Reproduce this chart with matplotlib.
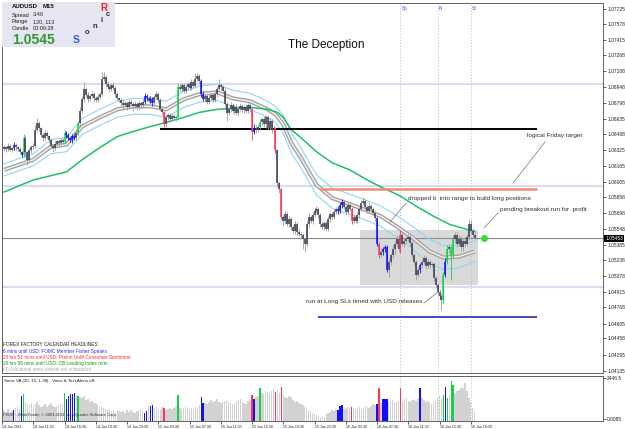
import matplotlib
matplotlib.use("Agg")
import matplotlib.pyplot as plt
import matplotlib.transforms as mtransforms
from matplotlib.patches import Rectangle
from matplotlib.lines import Line2D
import numpy as np

plt.rcParams['font.family'] = ['Liberation Sans', 'DejaVu Sans']

W, H = 625, 429

# ---------------- data ----------------
symbol = "AUDUSD"
timeframe = "M15"
spread = "3.40"
range_txt = "120, 113"
candle_timer = "00:09:28"
bid_text = "1.0545"
current_price = 1.05453

first_open = 1.0634
close = [
    1.0636, 1.0634, 1.0637, 1.0633, 1.0635, 1.0638, 1.0636, 1.0634, 1.0631, 1.0628,
    1.0645, 1.0631, 1.0623, 1.0633, 1.0636, 1.0637, 1.0653, 1.0659, 1.0655, 1.0648,
    1.0645, 1.0650, 1.0647, 1.0643, 1.0637, 1.0635, 1.0639, 1.0642, 1.0640, 1.0643,
    1.0641, 1.0650, 1.0648, 1.0645, 1.0643, 1.0647, 1.0645, 1.0650, 1.0659, 1.0671,
    1.0683, 1.0693, 1.0687, 1.0683, 1.0686, 1.0688, 1.0684, 1.0682, 1.0685, 1.0688,
    1.0703, 1.0705, 1.0698, 1.0695, 1.0693, 1.0697, 1.0694, 1.0688, 1.0684, 1.0682,
    1.0679, 1.0677, 1.0679, 1.0675, 1.0680, 1.0678, 1.0676, 1.0678, 1.0675, 1.0679,
    1.0677, 1.0680, 1.0686, 1.0684, 1.0681, 1.0683, 1.0679, 1.0685, 1.0688, 1.0682,
    1.0673, 1.0670, 1.0658, 1.0665, 1.0667, 1.0663, 1.0666, 1.0664, 1.0665, 1.0695,
    1.0693, 1.0697, 1.0691, 1.0695, 1.0698, 1.0694, 1.0700, 1.0696, 1.0703, 1.0706,
    1.0701, 1.0688, 1.0683, 1.0686, 1.0680, 1.0684, 1.0687, 1.0682, 1.0688, 1.0693,
    1.0697, 1.0695, 1.0691, 1.0678, 1.0669, 1.0673, 1.0677, 1.0671, 1.0675, 1.0669,
    1.0673, 1.0676, 1.0672, 1.0675, 1.0671, 1.0677, 1.0673, 1.0651, 1.0655, 1.0653,
    1.0656, 1.0660, 1.0663, 1.0658, 1.0665, 1.0655, 1.0661, 1.0653, 1.0655, 1.0633,
    1.0600, 1.0594, 1.0566, 1.0562, 1.0569, 1.0559, 1.0564, 1.0556, 1.0552, 1.0559,
    1.0551, 1.0549, 1.0548, 1.0544, 1.0539, 1.0559, 1.0566, 1.0562, 1.0568, 1.0572,
    1.0574, 1.0568, 1.0559, 1.0556, 1.0560, 1.0554, 1.0564, 1.0569, 1.0566, 1.0571,
    1.0574, 1.0572, 1.0578, 1.0581, 1.0576, 1.0571, 1.0578, 1.0574, 1.0562, 1.0566,
    1.0562, 1.0568, 1.0574, 1.0580, 1.0582, 1.0576, 1.0572, 1.0577, 1.0574, 1.0570,
    1.0565, 1.0539, 1.0529, 1.0532, 1.0534, 1.0536, 1.0514, 1.0522, 1.0529, 1.0534,
    1.0539, 1.0544, 1.0534, 1.0548, 1.0539, 1.0542, 1.0544, 1.0546, 1.0540, 1.0529,
    1.0522, 1.0509, 1.0514, 1.0519, 1.0522, 1.0526, 1.0518, 1.0522, 1.0519, 1.0520,
    1.0506, 1.0499, 1.0492, 1.0488, 1.0484, 1.0509, 1.0522, 1.0534, 1.0536, 1.0529,
    1.0544, 1.0548, 1.0539, 1.0544, 1.0536, 1.0542, 1.0539, 1.0546, 1.0559, 1.0552,
    1.0548, 1.05453,
]
upper_wick_pips = [
    2, 1, 3, 2, 1, 3, 2, 1, 2, 1,  4, 2, 1, 2, 2, 3, 4, 5, 2, 1,
    2, 3, 2, 1, 2, 2, 3, 1, 2, 2,  2, 3, 2, 2, 1, 2, 2, 3, 2, 4,
    3, 7, 2, 3, 2, 3, 2, 2, 3, 2,  7, 5, 2, 3, 2, 2, 3, 2, 2, 1,
    2, 3, 2, 2, 3, 2, 2, 3, 2, 2,  2, 3, 3, 2, 2, 3, 2, 2, 3, 2,
    2, 2, 1, 3, 2, 2, 3, 2, 2, 4,  3, 2, 2, 3, 2, 2, 3, 2, 6, 3,
    2, 2, 3, 2, 2, 3, 2, 2, 3, 2,  6, 2, 2, 3, 2, 2, 3, 2, 2, 3,
    2, 3, 2, 2, 3, 2, 2, 1, 3, 2,  2, 3, 2, 3, 2, 2, 3, 2, 2, 1,
    1, 2, 1, 2, 3, 2, 3, 2, 2, 3,  2, 3, 2, 2, 1, 3, 4, 2, 3, 3,
    3, 2, 2, 3, 2, 2, 3, 2, 2, 3,  2, 3, 3, 3, 2, 2, 3, 2, 2, 3,
    2, 3, 2, 3, 4, 2, 2, 3, 2, 2,  2, 1, 2, 3, 2, 2, 2, 3, 2, 4,
    3, 4, 2, 5, 3, 3, 2, 3, 2, 2,  2, 2, 3, 2, 3, 3, 2, 3, 2, 2,
    2, 2, 2, 3, 2, 3, 4, 4, 3, 2,  4, 3, 3, 4, 3, 3, 4, 3, 5, 4,
    3, 3,
]
lower_wick_pips = [
    2, 3, 2, 1, 2, 2, 3, 2, 2, 2,  2, 3, 5, 2, 3, 2, 2, 2, 3, 2,
    3, 2, 2, 3, 2, 4, 2, 2, 3, 2,  2, 2, 3, 2, 2, 3, 2, 2, 2, 3,
    2, 3, 2, 3, 2, 2, 3, 2, 2, 2,  2, 2, 3, 2, 3, 2, 2, 3, 2, 2,
    3, 4, 2, 3, 2, 2, 5, 2, 3, 2,  3, 2, 2, 3, 2, 2, 3, 2, 2, 3,
    2, 3, 2, 2, 3, 2, 2, 2, 3, 2,  2, 3, 2, 2, 3, 2, 2, 2, 2, 2,
    2, 3, 2, 3, 2, 2, 3, 2, 2, 3,  2, 3, 2, 3, 8, 2, 3, 2, 3, 2,
    3, 2, 2, 3, 2, 2, 3, 8, 2, 3,  2, 2, 3, 2, 3, 2, 2, 3, 2, 3,
    3, 4, 2, 5, 3, 2, 3, 3, 2, 3,  3, 2, 3, 10, 7, 2, 3, 2, 3, 2,
    2, 3, 3, 2, 3, 2, 2, 3, 2, 2,  2, 3, 2, 3, 2, 3, 2, 2, 3, 2,
    2, 2, 3, 2, 2, 3, 2, 2, 3, 2,  3, 2, 3, 2, 3, 2, 2, 7, 3, 3,
    4, 3, 2, 3, 2, 3, 2, 2, 3, 3,  3, 5, 2, 3, 3, 2, 3, 2, 3, 2,
    3, 3, 4, 3, 10, 3, 2, 2, 3, 25, 3, 4, 3, 2, 3, 3, 3, 2, 3, 3,
    2, 2,
]
volume = [
    620, 540, 700, 480, 560, 640, 760, 820, 700, 1420,
    1540, 1080, 960, 900, 1020, 860, 940, 1080, 900, 820,
    880, 960, 800, 900, 1000, 840, 780, 860, 920, 1000,
    980, 1600, 1260, 1400, 1540, 1540, 1620, 1500, 1440, 1380,
    1300, 1400, 1200, 1260, 1100, 1160, 1000, 1040, 900, 860,
    820, 760, 700, 620, 680, 560, 600, 520, 640, 580,
    500, 560, 480, 620, 540, 600, 520, 460, 580, 640,
    700, 560, 460, 580, 860, 860, 900, 760, 820, 700,
    640, 780, 740, 620, 700, 760, 680, 740, 800, 1480,
    760, 700, 740, 800, 720, 680, 760, 700, 780, 820,
    900, 1360, 1040, 1000, 960, 1100, 1180, 1080, 1160, 1240,
    1100, 1000, 1060, 1140, 1200, 1080, 1000, 960, 1040, 1120,
    1200, 1260, 1100, 1040, 980, 1120, 1200, 1480, 1260, 1380,
    1440, 1880, 1600, 1540, 1700, 1660, 1580, 1700, 1820, 1660,
    1760, 1620, 1940, 1500, 1380, 1300, 1420, 1360, 1200, 1100,
    1160, 1040, 980, 900, 820, 760, 640, 560, 480, 400,
    340, 260, 200, 300, 240, 380, 460, 520, 600, 560,
    680, 640, 860, 900, 700, 760, 820, 720, 800, 760,
    680, 740, 820, 700, 760, 860, 800, 740, 860, 940,
    900, 960, 1880, 1000, 1260, 1260, 1240, 1080, 1140, 1200,
    1020, 1080, 1160, 1880, 1100, 1240, 1300, 1140, 1060, 1180,
    1220, 1140, 1260, 1880, 1300, 1200, 1080, 1160, 1020, 960,
    1060, 1200, 1320, 1440, 1260, 1480, 1940, 1300, 1500, 2280,
    2060, 1620, 1700, 1780, 1880, 1900, 2160, 1700, 1300, 1060,
    760, 520,
]
blue_bars = [5, 9, 32, 33, 34, 35, 36, 72, 73, 75, 76, 101, 102, 128,
             171, 172, 173, 191, 194, 195, 196, 213, 226]
green_bars = [10, 31, 38, 89, 131, 225, 227, 229, 230]
red_bars = [82, 127, 139, 142, 178, 192, 203]

# moving averages (read at sample bars)
ma_bars = [0, 15, 24, 32, 40, 49, 58, 66, 75, 83, 92, 100, 109, 117, 126,
           135, 139, 143, 147, 152, 160, 168, 177, 184, 193, 201, 209, 218,
           225, 233, 241]
ma_center = [1.0613, 1.0623, 1.0636, 1.0638, 1.0656, 1.0665, 1.0673, 1.0676,
             1.0676, 1.0673, 1.0683, 1.0688, 1.0690, 1.0684, 1.0681, 1.0673,
             1.0668, 1.0658, 1.0640, 1.0625, 1.0598, 1.0585, 1.0579, 1.0574,
             1.0567, 1.0557, 1.0546, 1.0532, 1.0526, 1.0527, 1.0532]
ma_band_pips = [6, 6, 7, 7, 8, 8, 8, 8, 8, 8, 8, 8, 8, 8, 8, 8, 8, 9, 10,
                10, 10, 10, 10, 10, 10, 11, 11, 12, 12, 11, 10]
slow_ma_bars = [0, 15, 32, 40, 49, 58, 66, 75, 83, 92, 100, 109, 117, 126,
                135, 140, 143, 147, 152, 160, 168, 177, 186, 193, 203, 211,
                220, 228, 237, 241]
slow_ma = [1.0591, 1.0603, 1.0611, 1.0623, 1.0635, 1.0646, 1.0651, 1.0656,
           1.0660, 1.0665, 1.0670, 1.0673, 1.0674, 1.0675, 1.0673, 1.0670,
           1.0665, 1.0653, 1.0645, 1.0631, 1.0620, 1.0613, 1.0603, 1.0596,
           1.0587, 1.0577, 1.0567, 1.0559, 1.0554, 1.0552]

pivot_levels = [1.0698, 1.0597, 1.0497]
black_level, black_from = 1.0654, 80
salmon_level, salmon_from = 1.0594, 162
blue_level, blue_from = 1.0467, 161
level_to = 273
box_first_bar, box_last_bar = 183, 242
box_low, box_high = 1.0499, 1.0553
target_bar = 246

event_bars = [203, 222, 239]
event_labels = ["Sp", "N", "Sc"]

price_ticks = [1.07725, 1.07578, 1.07415, 1.07268, 1.07108, 1.06948, 1.06798,
               1.06635, 1.06488, 1.06325, 1.06165, 1.06005, 1.05858, 1.05698,
               1.05548, 1.05385, 1.05238, 1.05078, 1.04915, 1.04768, 1.04605,
               1.04458, 1.04295, 1.04135]
vol_max_label = 2446.5
vol_min_label = "0.0085"

time_labels = ["14 Jun 2011", "14 Jun 11:30", "14 Jun 15:30", "14 Jun 19:30",
               "14 Jun 23:30", "15 Jun 03:30", "15 Jun 07:30", "15 Jun 11:30",
               "15 Jun 15:30", "15 Jun 19:30", "15 Jun 23:30", "16 Jun 03:30",
               "16 Jun 07:30", "16 Jun 11:30", "16 Jun 15:30", "16 Jun 19:30"]
bars_per_label = 16

news_lines = [
    ("FOREX FACTORY CALENDAR HEADLINES:", "#202020"),
    ("6 mins until USD: FOMC Member Fisher Speaks", "#2a2aff"),
    ("20 hrs 51 mins until USD: Prelim UoM Consumer Sentiment", "#ff2a2a"),
    ("20 hrs 56 mins until USD: CB Leading Index m/m", "#109a10"),
    ("(4) Additional news events not scheduled", "#a8a8a8"),
]

# ---------------- figure ----------------
fig = plt.figure(figsize=(W / 100, H / 100), dpi=100)


def fx(px):
    return px / W


def fy(py):
    return 1 - py / H


PX_PER_BAR = 1.953
AX_L, AX_R = 2, 603
x_left = (AX_L - 4) / PX_PER_BAR
x_right = (AX_R - 4) / PX_PER_BAR

ax = fig.add_axes([fx(AX_L), fy(373), fx(AX_R) - fx(AX_L), fy(3) - fy(373)])
axv = fig.add_axes([fx(AX_L), fy(421), fx(AX_R) - fx(AX_L), fy(376) - fy(421)])

y_top = 1.07785
y_bot = 1.04115
ax.set_xlim(x_left, x_right)
ax.set_ylim(y_bot, y_top)

n = len(close)
idx = np.arange(n)
close_a = np.array(close)
open_a = np.concatenate([[first_open], close_a[:-1]])
pip = 0.0001
top_body = np.maximum(open_a, close_a)
bot_body = np.minimum(open_a, close_a)
highs = top_body + np.array(upper_wick_pips) * pip
lows = bot_body - np.array(lower_wick_pips) * pip
bot_body_draw = np.minimum(bot_body, top_body - 0.3 * pip)

wick_c = ['#9a9aaa'] * n
body_c = ['#3a3a4a'] * n
vol_c = ['#d2d2d2'] * n
for b in blue_bars:
    wick_c[b] = body_c[b] = vol_c[b] = '#1010ff'
for b in green_bars:
    wick_c[b] = body_c[b] = vol_c[b] = '#18d048'
for b in red_bars:
    wick_c[b] = body_c[b] = vol_c[b] = '#ff3355'

# horizontal levels
for lv in pivot_levels:
    ax.axhline(lv, color='#dcdcf0', lw=1.6, zorder=0.3)
ax.add_patch(Rectangle((box_first_bar - 0.5, box_low), box_last_bar - box_first_bar + 1,
                       box_high - box_low, facecolor='#d9d9d9', edgecolor='none', zorder=0.4))
ax.axhline(current_price, color='#8c8c8c', lw=0.8, zorder=0.6)
ax.hlines(black_level, black_from, level_to, color='black', lw=1.4, zorder=1.5)
ax.hlines(salmon_level, salmon_from, level_to, color='#f08a70', lw=1.8, zorder=1.5)
ax.hlines(blue_level, blue_from, level_to, color='#4848c0', lw=1.4, zorder=1.5)

for eb in event_bars:
    ax.axvline(eb, color='#b8b8c8', ls=(0, (1, 2)), lw=0.7, zorder=0.5)
    axv.axvline(eb, color='#b8b8c8', ls=(0, (1, 2)), lw=0.7, zorder=0.5)

# moving averages
mc = np.array(ma_center)
mb = np.array(ma_band_pips) * pip
ax.plot(ma_bars, mc + mb, color='#8fd6f5', lw=0.8, zorder=1)
ax.plot(ma_bars, mc - mb, color='#8fd6f5', lw=0.8, zorder=1)
ax.plot(ma_bars, mc, color='#a4a4a4', lw=3.0, zorder=1.1, solid_capstyle='butt')
ax.plot(ma_bars, mc, color='#f4f4f4', lw=1.0, zorder=1.2)
ax.plot(slow_ma_bars, slow_ma, color='#1fbf6a', lw=1.1, zorder=1.3)

# candles
ax.vlines(idx, lows, highs, colors=wick_c, lw=0.6, zorder=2)
ax.vlines(idx, bot_body_draw, top_body, colors=body_c, lw=1.1, zorder=2.1)

ax.plot([target_bar], [current_price], 'o', color='#33dd33', ms=4, zorder=3)

# axes styling
for a in (ax, axv):
    a.set_facecolor('white')
    for s in a.spines.values():
        s.set_color('#606060')
        s.set_linewidth(0.7)
ax.spines['top'].set_linestyle((0, (2, 1)))
ax.set_xticks([])
ax.yaxis.tick_right()
ax.set_yticks(price_ticks)
ax.set_yticklabels([f"{v:.5f}" for v in price_ticks])
ax.tick_params(axis='y', labelsize=3.5, length=2, width=0.5, pad=1.0, colors='#202020')

trans = mtransforms.blended_transform_factory(ax.transAxes, ax.transData)
ax.text(1.004, current_price, f"{current_price:.5f}", transform=trans, fontsize=3.5,
        color='white', va='center', ha='left', zorder=5,
        bbox=dict(facecolor='black', edgecolor='none', pad=0.7))

transx = mtransforms.blended_transform_factory(ax.transData, ax.transAxes)
for eb, lab in zip(event_bars, event_labels):
    ax.text(eb + 0.8, 0.993, lab, transform=transx, fontsize=3.3, color='#a070d8',
            ha='left', va='top', fontweight='bold')

# volume panel
axv.set_xlim(x_left, x_right)
vtop = vol_max_label * 45 / 43
axv.set_ylim(0, vtop)
axv.bar(idx, volume, width=0.75, color=vol_c, linewidth=0, zorder=1)
axv.yaxis.tick_right()
axv.set_yticks([vol_max_label, vtop * 2 / 45])
axv.set_yticklabels([f"{vol_max_label}", vol_min_label])
axv.tick_params(axis='y', labelsize=3.5, length=2, width=0.5, pad=1.0, colors='#202020')

label_bars = [-1 + bars_per_label * k for k in range(len(time_labels))]
axv.set_xticks(label_bars)
axv.set_xticklabels(time_labels)
axv.tick_params(axis='x', labelsize=2.6, length=2, width=0.5, pad=0.8, colors='#202020')
for t in axv.get_xticklabels():
    t.set_ha('left')

# ---------------- texts ----------------
fig.patches.append(Rectangle((fx(2), fy(47)), fx(115) - fx(2), 45 / H,
                             transform=fig.transFigure, facecolor='#e6e6f3',
                             edgecolor='none', zorder=1))
fig.text(fx(12), fy(7), symbol, fontsize=4.4, fontweight='bold', va='center', color='#101010')
fig.text(fx(43), fy(7), timeframe, fontsize=4.4, fontweight='bold', va='center', color='#101010')
for row, (k, v) in enumerate([("Spread", spread), ("Range", range_txt), ("Candle", candle_timer)]):
    fig.text(fx(12), fy(15 + 7 * row), k, fontsize=4.0, va='center', color='#202020')
    fig.text(fx(33), fy(15 + 7 * row), v, fontsize=4.0, va='center', color='#202020')
fig.text(fx(12), fy(40), bid_text, fontsize=10, fontweight='bold', va='center', color='#2f9a2f')
for ch, x, y, size, col in [("S", 76, 40, 7.5, '#3d5be0'), ("o", 87, 33, 5.5, '#303030'),
                             ("n", 95, 27, 5.5, '#303030'), ("i", 102, 21, 5.5, '#303030'),
                             ("c", 108, 15, 5.5, '#303030'), ("R", 104, 8, 7, '#ee2222')]:
    fig.text(fx(x), fy(y), ch, fontsize=size, fontweight='bold', color=col, ha='center', va='center')

fig.text(fx(326), fy(45), "The Deception", fontsize=8.5, ha='center', va='center', color='#101010')

ann_c = '#303030'
fig.text(fx(527), fy(136), "logical Friday target", fontsize=4.6, va='center', color=ann_c)
fig.text(fx(408), fy(199), "dropped it  into range to build long positions", fontsize=4.6, va='center', color=ann_c)
fig.text(fx(500), fy(209), "pending breakout run for  profit", fontsize=4.6, va='center', color=ann_c)
fig.text(fx(306), fy(302), "run at Long SLs timed with USD releases", fontsize=4.6, va='center', color=ann_c)
for (x1, y1, x2, y2) in [(545, 142, 513, 183), (406, 203, 390, 222), (498, 213, 484, 228), (424, 303, 438, 292)]:
    fig.lines.append(Line2D([fx(x1), fx(x2)], [fy(y1), fy(y2)], transform=fig.transFigure,
                            color='#707070', lw=0.5))

for k, (txt, col) in enumerate(news_lines):
    fig.text(fx(3), fy(345 + 6.2 * k), txt, fontsize=3.4, va='center', color=col)

fig.text(fx(4), fy(381), "Sonic VA (20, 10, 1.38)   Voice & Text Alerts off.", fontsize=3.2,
         va='center', color='#202020')
fig.text(fx(3), fy(415), "FXDD - MetaTrader, \u00a9 2001-2011 MetaQuotes Software Corp.",
         fontsize=3.0, va='center', color='#303030')

fig.savefig("out.png", dpi=100)
